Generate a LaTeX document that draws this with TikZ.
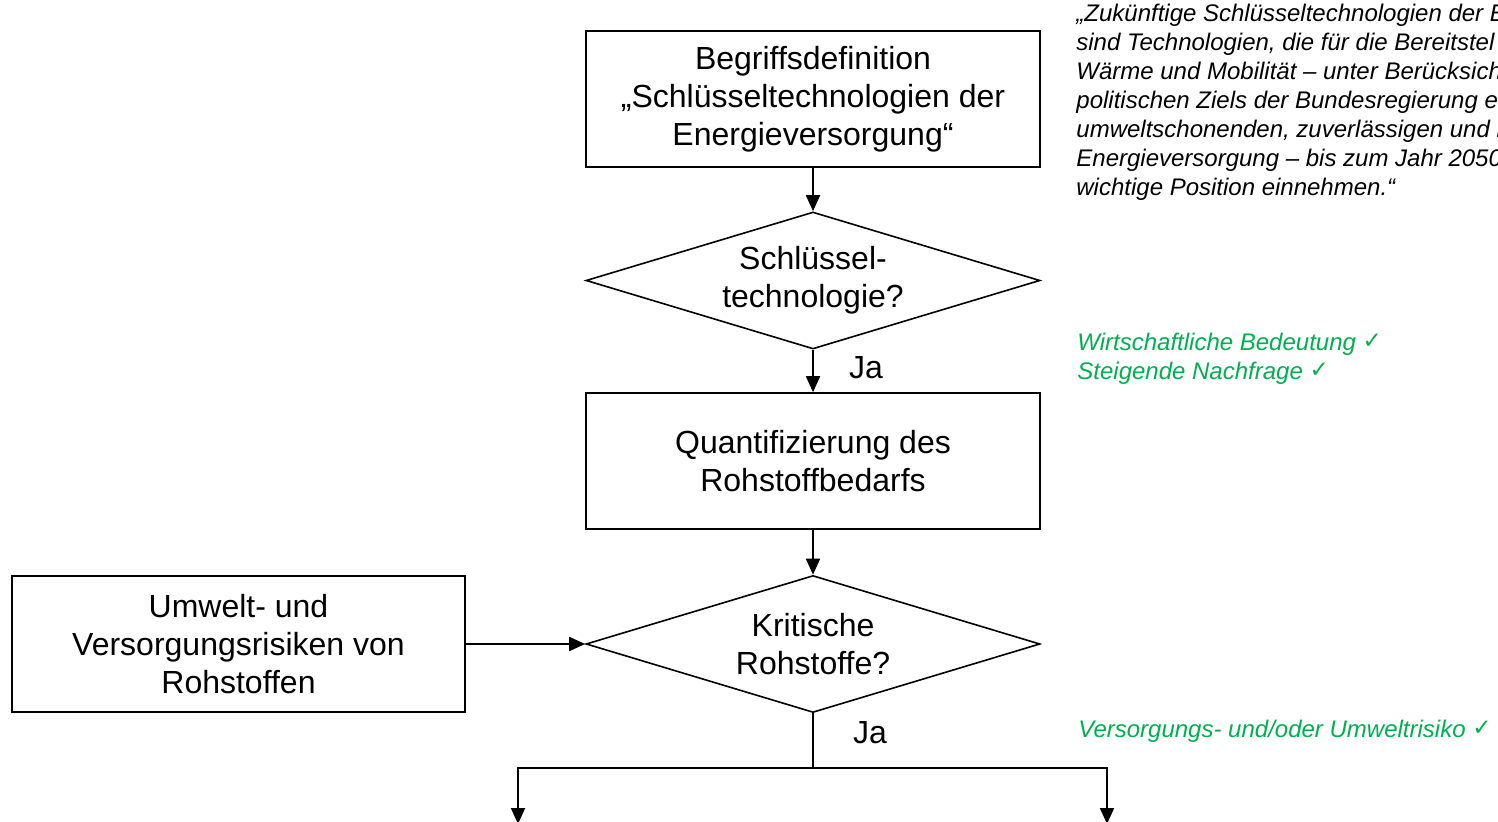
\documentclass[tikz,border=0pt]{standalone}
\usepackage{fontspec}
\setmainfont{Liberation Sans}
\newfontfamily\checkfont{DejaVu Sans}
\usetikzlibrary{shapes.geometric,arrows.meta}
\definecolor{okgreen}{RGB}{0,176,80}
\newcommand{\okmark}{\raisebox{1pt}{\checkfont\fontsize{11.5}{12}\selectfont ✓}}

\begin{document}
\begin{tikzpicture}[x=0.5pt,y=-0.5pt,
	box/.style={draw,line width=0.8pt,minimum width=227pt,minimum height=68pt,inner sep=0pt,align=center,font=\fontsize{16}{19}\selectfont},
	decision/.style={draw,diamond,aspect=3.3,line width=0.8pt,minimum width=227pt,minimum height=68.5pt,inner sep=0pt,align=center,font=\fontsize{16}{19}\selectfont},
	arr/.style={line width=0.9pt,-{Triangle[length=8pt,width=7pt]}},
	yes/.style={font=\fontsize{16}{19}\selectfont},
	note/.style={inner sep=0pt,align=left,font=\fontsize{12}{14.5}\selectfont\itshape},
	hint/.style={note,text=okgreen}]
	\clip (0,0) rectangle (1498,822);
	% main flow
	\node[box] (def) at (813,99) {Begriffsdefinition\\„Schlüsseltechnologien der\\Energieversorgung“};
	\node[decision] (key) at (813,280.5) {Schlüssel-\\technologie?};
	\node[box] (need) at (813,461) {Quantifizierung des\\Rohstoffbedarfs};
	\node[decision] (crit) at (813,644) {Kritische\\Rohstoffe?};
	\node[box,minimum width=226.5pt] (risk) at (238.5,644) {Umwelt- und\\Versorgungsrisiken von\\Rohstoffen};
	\node[yes] (yes1) at (866,368) {Ja};
	\node[yes] (yes2) at (870,733) {Ja};
	% notes on the right
	\node[note,anchor=north west] (quote) at (1076,4) {„Zukünftige Schlüsseltechnologien der E\\sind Technologien, die für die Bereitstel\\Wärme und Mobilität – unter Berücksich\\politischen Ziels der Bundesregierung e\\umweltschonenden, zuverlässigen und b\\Energieversorgung – bis zum Jahr 2050\\wichtige Position einnehmen.“};
	\node[hint,anchor=west] (hint1) at (1077,344) {Wirtschaftliche Bedeutung \okmark};
	\node[hint,anchor=west] (hint2) at (1077,373) {Steigende Nachfrage \okmark};
	\node[hint,anchor=west] (hint3) at (1078,731) {Versorgungs- und/oder Umweltrisiko \okmark};
	% connectors
	\coordinate (split) at (813,768);
	\coordinate (outL) at (518,824);
	\coordinate (outR) at (1107,824);
	\draw[arr] (def) -- (key);
	\draw[arr] (key) -- (need);
	\draw[arr] (need) -- (crit);
	\draw[arr] (risk) -- (crit);
	\draw[line width=0.9pt] (crit.south) -- (split);
	\draw[arr] (split) -| (outL);
	\draw[arr] (split) -| (outR);
\end{tikzpicture}
\end{document}
